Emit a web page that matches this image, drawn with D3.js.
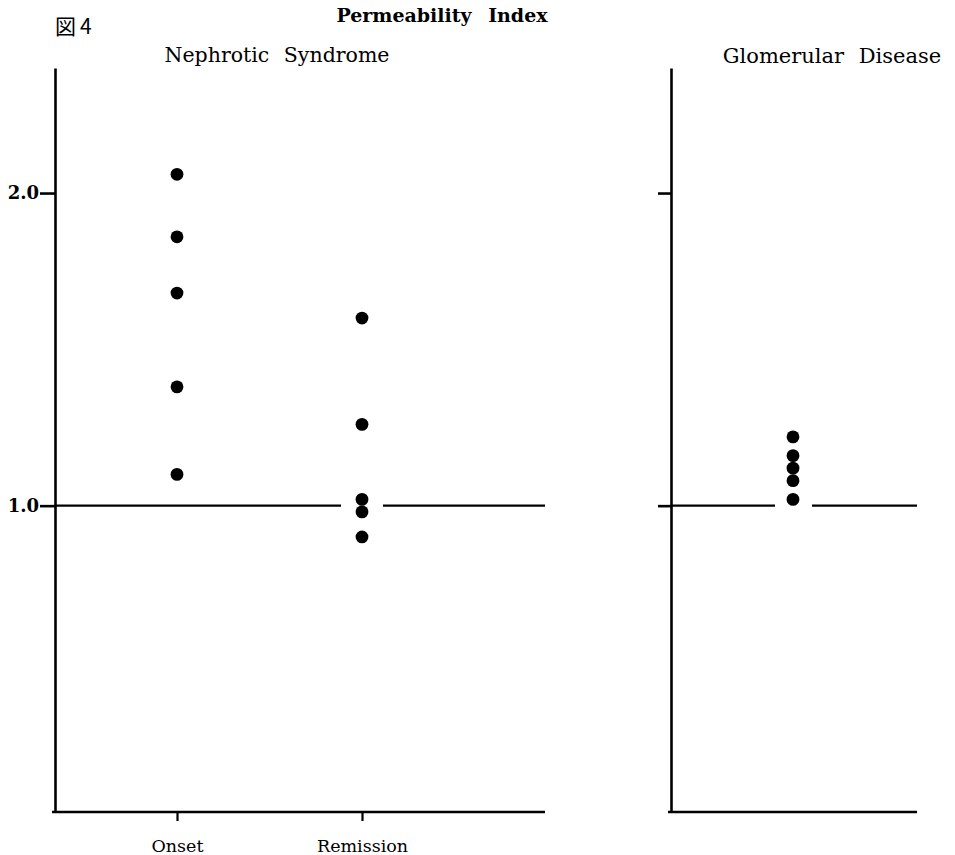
<!DOCTYPE html>
<html><head><meta charset="utf-8">
<script src="https://cdn.jsdelivr.net/npm/d3@7"></script>
<style>body{margin:0;background:#fff}</style>
</head><body>
<script>
const figLabel = "図4";
const title = "Permeability Index";
const panelTitles = ["Nephrotic Syndrome", "Glomerular Disease"];
const nephroticCategories = ["Onset", "Remission"];
const onsetValues = [2.06, 1.86, 1.68, 1.38, 1.10];
const remissionValues = [1.60, 1.26, 1.02, 0.98, 0.90];
const glomerularValues = [1.22, 1.16, 1.12, 1.08, 1.02];
const yTicks = [1.0, 2.0];
const refValue = 1.0;

const W = 955, H = 855;
const svg = d3.select("body").append("svg").attr("width", W).attr("height", H);
const serif = "'DejaVu Serif', 'Liberation Serif', serif";

const y = d3.scaleLinear().domain([0.02, 2.4]).range([812, 68]);

// Left panel
const L = {x0: 55, x1: 545};
const xL = d3.scalePoint().domain(nephroticCategories).range([177, 362]);
// Right panel
const R = {x0: 671, x1: 917};
const xR = d3.scalePoint().domain(["Glomerular"]).range([793, 793]);

function yAxis(x0, labels, tsize) {
  const ax = d3.axisLeft(y).tickValues(yTicks).tickSize(tsize).tickSizeOuter(0)
    .tickFormat(labels ? d3.format(".1f") : () => "");
  const g = svg.append("g").attr("transform", `translate(${x0},0)`).call(ax);
  g.select(".domain").attr("stroke", "#000").attr("stroke-width", 2.6);
  g.selectAll(".tick line").attr("stroke", "#000").attr("stroke-width", 2.6);
  g.selectAll(".tick text").attr("font-family", serif).attr("font-weight", "bold")
    .attr("font-size", 18).attr("fill", "#000").attr("x", -16);
}
yAxis(L.x0, true, 15);
yAxis(R.x0, false, 13);

// bottom axes
function bottomLine(x0, x1) {
  svg.append("line").attr("x1", x0 - 3).attr("x2", x1).attr("y1", y(0.02)).attr("y2", y(0.02))
    .attr("stroke", "#000").attr("stroke-width", 2.6);
}
bottomLine(L.x0, L.x1);
bottomLine(R.x0, R.x1);
const bx = svg.append("g").attr("transform", `translate(0,${y(0.02)})`)
  .call(d3.axisBottom(xL).tickSize(9).tickSizeOuter(0).tickPadding(19));
bx.select(".domain").remove();
bx.selectAll(".tick line").attr("stroke", "#000").attr("stroke-width", 2.2);
bx.selectAll(".tick text").attr("font-family", serif).attr("font-size", 17.5).attr("fill", "#000");

// reference line at 1.0 with gaps around dot columns
function refLine(x0, x1, gx, gl, gr) {
  const yy = y(refValue);
  [[x0, gx - gl], [gx + gr, x1]].forEach(([a, b]) => {
    svg.append("line").attr("x1", a).attr("x2", b).attr("y1", yy).attr("y2", yy)
      .attr("stroke", "#000").attr("stroke-width", 2.2);
  });
}
refLine(L.x0, L.x1, xL("Remission"), 21, 21);
refLine(R.x0, R.x1, xR("Glomerular"), 18, 19);

// dots
function dots(vals, cx) {
  svg.append("g").selectAll("circle").data(vals).join("circle")
    .attr("cx", cx).attr("cy", d => y(d)).attr("r", 6.4).attr("fill", "#000");
}
dots(onsetValues, xL("Onset"));
dots(remissionValues, xL("Remission"));
dots(glomerularValues, xR("Glomerular"));

// titles
svg.append("text").attr("x", 55).attr("y", 34).text(figLabel)
  .attr("font-family", "'Noto Sans CJK JP', sans-serif").attr("font-size", 21)
  .attr("letter-spacing", 4).attr("fill", "#000");
svg.append("text").attr("x", 442).attr("y", 22).attr("text-anchor", "middle").text(title)
  .attr("font-family", serif).attr("font-weight", "bold").attr("font-size", 19)
  .attr("word-spacing", 10).attr("fill", "#000");
svg.append("text").attr("x", 277).attr("y", 62).attr("text-anchor", "middle").text(panelTitles[0])
  .attr("font-family", serif).attr("font-size", 20.5).attr("word-spacing", 8).attr("fill", "#000");
svg.append("text").attr("x", 832).attr("y", 63).attr("text-anchor", "middle").text(panelTitles[1])
  .attr("font-family", serif).attr("font-size", 21).attr("word-spacing", 8).attr("fill", "#000");
</script>
</body></html>
